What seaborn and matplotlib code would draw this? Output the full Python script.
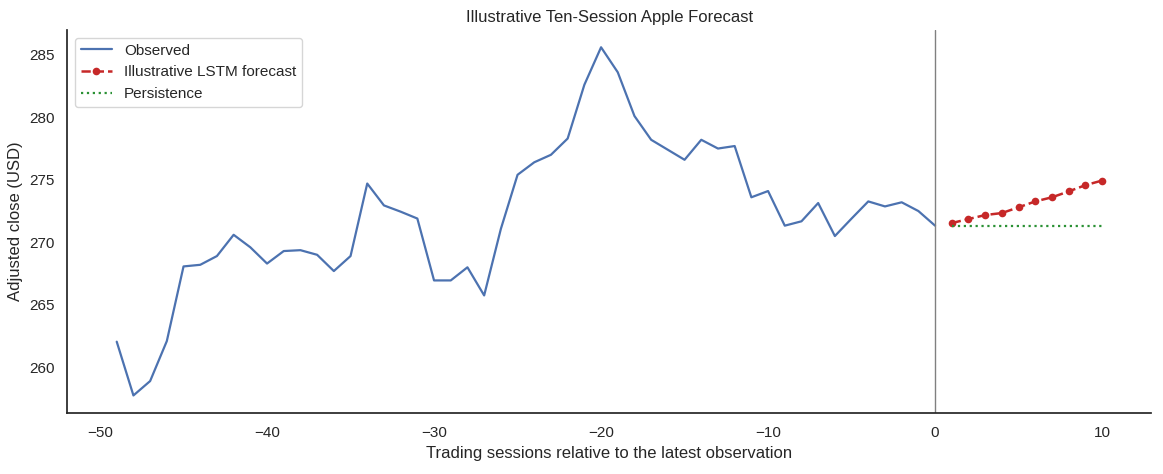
import numpy as np
import pandas as pd
import matplotlib
matplotlib.use("Agg")
import matplotlib.pyplot as plt
import seaborn as sns

# observed adjusted close, sessions -49..0
obs_steps = list(range(-49, 1))
obs_close = [262.05, 257.75, 258.9, 262.1, 268.07, 268.2, 268.9, 270.6, 269.6, 268.3,
             269.3, 269.37, 269.0, 267.7, 268.9, 274.7, 272.95, 272.45, 271.9, 266.95,
             266.95, 268.0, 265.75, 271.07, 275.4, 276.4, 277.0, 278.3, 282.6, 285.6,
             283.6, 280.1, 278.2, 277.4, 276.6, 278.2, 277.5, 277.7, 273.6, 274.1,
             271.33, 271.68, 273.14, 270.5, 271.9, 273.27, 272.87, 273.2, 272.5, 271.33]

# forecast horizon 1..10
fc_steps = list(range(1, 11))
lstm_fc = [271.54, 271.86, 272.18, 272.34, 272.8, 273.27, 273.6, 274.07, 274.57, 274.94]
persist_fc = [271.33] * 10

sns.set_theme(style="white")
plt.rcParams["font.family"] = ["Liberation Sans", "DejaVu Sans"]

obs = pd.DataFrame({"step": obs_steps, "close": obs_close})
fc = pd.DataFrame({"step": fc_steps, "lstm": lstm_fc, "persist": persist_fc})

fig, ax = plt.subplots(figsize=(11.63, 4.74), dpi=100)
sns.lineplot(data=obs, x="step", y="close", ax=ax, color="#4c72b0", linewidth=1.6,
             label="Observed")
sns.lineplot(data=fc, x="step", y="lstm", ax=ax, color="#c62828", marker="o",
             linestyle="--", linewidth=1.8, markersize=5.5, markeredgewidth=0,
             label="Illustrative LSTM forecast")
sns.lineplot(data=fc, x="step", y="persist", ax=ax, color="#2a9134", linestyle=":",
             linewidth=1.6, label="Persistence")
ax.axvline(0, color="gray", linewidth=1)

ax.set_title("Illustrative Ten-Session Apple Forecast")
ax.set_xlabel("Trading sessions relative to the latest observation")
ax.set_ylabel("Adjusted close (USD)")
ax.legend(loc="upper left")
sns.despine()

plt.subplots_adjust(left=0.058, right=0.99, top=0.937, bottom=0.129)
plt.savefig("out.png")
